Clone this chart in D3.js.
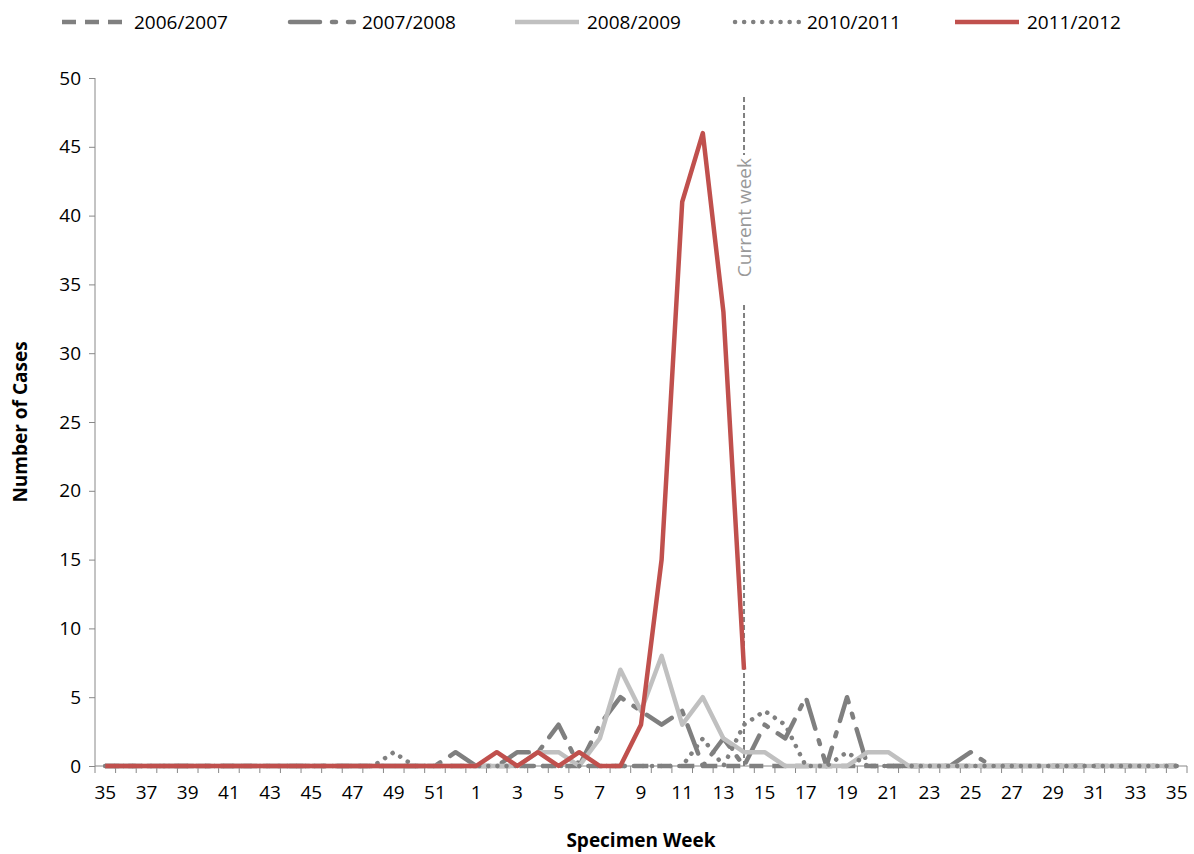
<!DOCTYPE html>
<html><head><meta charset="utf-8">
<script src="https://cdn.jsdelivr.net/npm/d3@7"></script>
<style>body{margin:0;background:#fff;font-family:"Open Sans",sans-serif}</style>
</head><body><div id="chart"></div>
<script>
const weeks = [35,36,37,38,39,40,41,42,43,44,45,46,47,48,49,50,51,52,
  1,2,3,4,5,6,7,8,9,10,11,12,13,14,15,16,17,18,19,20,21,22,23,24,25,26,27,28,29,30,31,32,33,34,35];
const s0607 = [0,0,0,0,0,0,0,0,0,0,0,0,0,0,0,0,0,0, 0,0,0,0,0,0,0,0,0,0,0,0,0,0,0,0,0,0,0,0,0,0,0,0,0,0,0,0,0,0,0,0,0,0,0];
const s0708 = [0,0,0,0,0,0,0,0,0,0,0,0,0,0,0,0,0,1, 0,0,1,1,3,0,3,5,4,3,4,0,2,0,3,2,5,0,5,0,0,0,0,0,1,0,0,0,0,0,0,0,0,0,0];
const s0809 = [0,0,0,0,0,0,0,0,0,0,0,0,0,0,0,0,0,0, 0,0,0,1,1,0,2,7,4,8,3,5,2,1,1,0,0,0,0,1,1,0,0,0,0,0,0,0,0,0,0,0,0,0,0];
const s1011 = [0,0,0,0,0,0,0,0,0,0,0,0,0,0,1,0,0,0, 0,0,0,0,0,0,0,0,0,0,0,2,0,3,4,3,0,0,1,0,0,0,0,0,0,0,0,0,0,0,0,0,0,0,0];
const s1112 = [0,0,0,0,0,0,0,0,0,0,0,0,0,0,0,0,0,0, 0,1,0,1,0,1,0,0,3,15,41,46,33,7];
const yTicks = [0,5,10,15,20,25,30,35,40,45,50];
const currentWeekIndex = 31;

const series = [
  {name:'2006/2007', values:s0607, color:'#808080', dash:'14,9', cap:'butt'},
  {name:'2007/2008', values:s0708, color:'#7f7f7f', dash:'30,12,4,12', cap:'round'},
  {name:'2008/2009', values:s0809, color:'#c0c0c0', dash:null, cap:'butt'},
  {name:'2010/2011', values:s1011, color:'#808080', dash:'0.1,9', cap:'round'},
  {name:'2011/2012', values:s1112, color:'#c0504d', dash:null, cap:'butt'}
];

const W = 1194, H = 854, mLeft = 95, mRight = 1187, mTop = 78, mBottom = 766;
const svg = d3.select('#chart').append('svg').attr('width', W).attr('height', H);

const x = d3.scalePoint().domain(d3.range(weeks.length)).range([mLeft, mRight]).padding(0.5);
const y = d3.scaleLinear().domain([0, 50]).range([mBottom, mTop]);

// y axis
const ya = svg.append('g').attr('transform', `translate(${mLeft},0)`)
  .call(d3.axisLeft(y).tickValues(yTicks).tickSize(6).tickPadding(8));
ya.selectAll('text').attr('font-size', 19).attr('font-family', '"Open Sans",sans-serif').attr('fill', '#000');
ya.selectAll('line,path').attr('stroke', '#888');
ya.select('path').attr('d', `M0,${mTop}V${mBottom}`);

// x axis
const step = x.step();
const xa = svg.append('g').attr('transform', `translate(0,${mBottom})`);
xa.append('line').attr('x1', mLeft).attr('x2', mRight).attr('stroke', '#888');
xa.selectAll('.tk').data(d3.range(weeks.length + 1)).enter().append('line')
  .attr('x1', i => mLeft + i * step).attr('x2', i => mLeft + i * step)
  .attr('y1', 0).attr('y2', 7).attr('stroke', '#888');
xa.selectAll('.lb').data(d3.range(0, weeks.length, 2)).enter().append('text')
  .attr('x', i => x(i)).attr('y', 33).attr('text-anchor', 'middle')
  .attr('font-size', 19).text(i => weeks[i]);

// current week line
const cx = x(currentWeekIndex);
svg.append('line').attr('x1', cx).attr('x2', cx)
  .attr('y1', 97).attr('y2', mBottom).attr('stroke', '#808080').attr('stroke-width', 2).attr('stroke-dasharray', '5,3');
svg.append('rect').attr('x', cx - 12).attr('y', 155).attr('width', 24).attr('height', 148).attr('fill', '#fff');
svg.append('text').attr('transform', `translate(${cx + 7},158) rotate(-90)`)
  .attr('text-anchor', 'end').attr('font-size', 19).attr('fill', '#999').text('Current week');

const line = d3.line().x((d, i) => x(i)).y(d => y(d));
series.forEach(s => {
  svg.append('path').datum(s.values).attr('d', line).attr('fill', 'none')
    .attr('stroke', s.color).attr('stroke-width', 4.5).attr('stroke-linejoin', 'round')
    .attr('stroke-linecap', s.cap).attr('stroke-dasharray', s.dash);
});

// legend
const legX = [62, 290, 515, 735, 955];
series.forEach((s, i) => {
  const g = svg.append('g').attr('transform', `translate(${legX[i]},22)`);
  g.append('path').attr('d', 'M0,0H64').attr('stroke', s.color).attr('stroke-width', 4.5)
    .attr('stroke-linecap', s.cap).attr('stroke-dasharray', s.dash);
  g.append('text').attr('x', 72).attr('y', 7).attr('font-size', 19).text(s.name);
});

svg.append('text').attr('x', (mLeft + mRight) / 2).attr('y', 847).attr('text-anchor', 'middle')
  .attr('font-size', 19).attr('font-weight', 'bold').text('Specimen Week');
svg.append('text').attr('transform', `translate(27,${(mTop + mBottom) / 2}) rotate(-90)`)
  .attr('text-anchor', 'middle').attr('font-size', 19).attr('font-weight', 'bold').text('Number of Cases');
</script></body></html>
